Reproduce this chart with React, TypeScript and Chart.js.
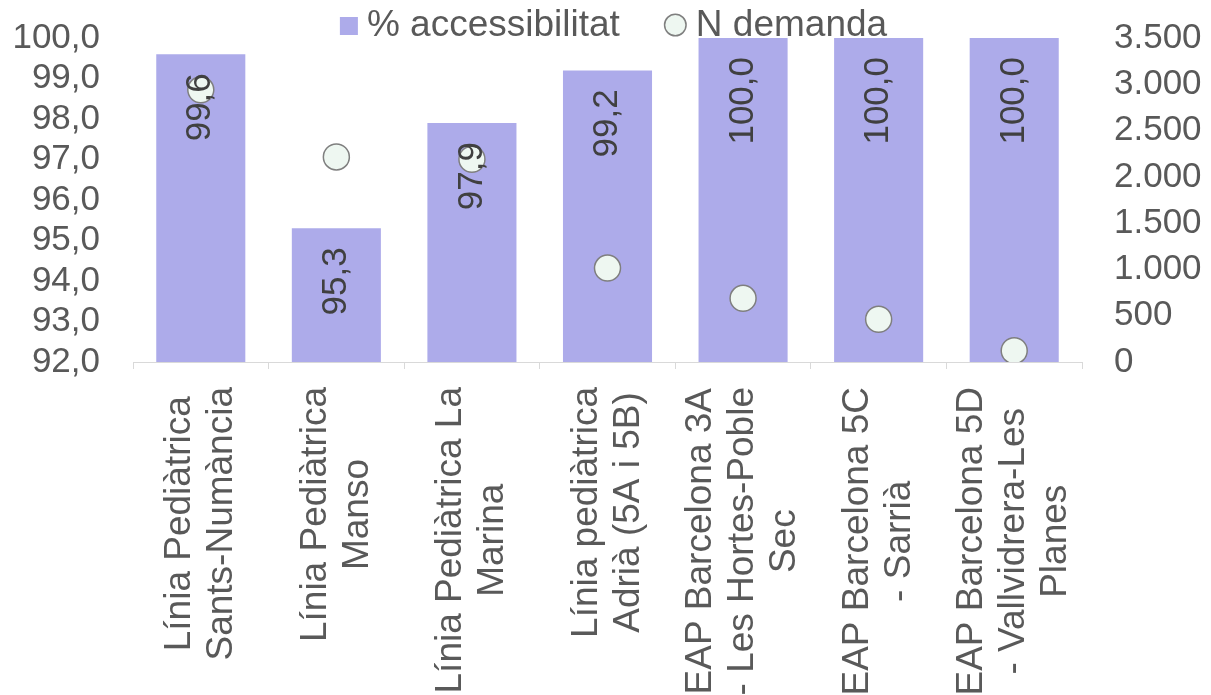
import React, { useEffect, useRef } from "react";
import { Chart, registerables } from "chart.js";

Chart.register(...registerables);

const categories: string[][] = [
  ["Línia Pediàtrica", "Sants-Numància"],
  ["Línia Pediàtrica", "Manso"],
  ["Línia Pediàtrica La", "Marina"],
  ["Línia pediàtrica", "Adrià (5A i 5B)"],
  ["EAP Barcelona 3A", "- Les Hortes-Poble", "Sec"],
  ["EAP Barcelona 5C", "- Sarrià"],
  ["EAP Barcelona 5D", "- Vallvidrera-Les", "Planes"],
];
const accessibilitat: number[] = [99.6, 95.3, 97.9, 99.2, 100.0, 100.0, 100.0];
const demanda: number[] = [2940, 2215, 2190, 1015, 688, 462, 122];
const seriesNames: string[] = ["% accessibilitat", "N demanda"];

const FONT = '"Liberation Sans", Arial, sans-serif';
const BAR_COLOR = "#ADABEA";
const POINT_FILL = "#EEF7F1";
const POINT_BORDER = "#7F7F7F";
const TEXT = "#595959";

const fmtPct = (v: number) => v.toFixed(1).replace(".", ",");
const fmtThousands = (v: number) =>
  String(Math.round(v)).replace(/\B(?=(\d{3})+(?!\d))/g, ".");

const labelAdjust = {
  id: "labelAdjust",
  beforeDraw(chart: any) {
    const ctx = chart.ctx;
    const xs = chart.scales.x;
    const items = xs.getLabelItems();
    if (items && !(items as any).__adj) {
      (items as any).__adj = true;
      items.forEach((it: any) => {
        const lines: string[] = Array.isArray(it.label) ? it.label : [it.label];
        const lh = it.font.lineHeight;
        ctx.save();
        ctx.font = it.font.string;
        let maxW = 0;
        lines.forEach((l) => (maxW = Math.max(maxW, ctx.measureText(l).width)));
        ctx.restore();
        it.options.translation = [
          it.options.translation[0] - ((lines.length - 1) / 2) * lh,
          it.options.translation[1] + maxW / 2,
        ];
        it.options.textAlign = "center";
      });
    }
  },
};

const dataLabels = {
  id: "dataLabels",
  afterDatasetsDraw(chart: any) {
    const ctx = chart.ctx;
    const meta = chart.getDatasetMeta(1);
    ctx.save();
    ctx.font = `35px ${FONT}`;
    ctx.fillStyle = "#404040";
    ctx.textAlign = "right";
    ctx.textBaseline = "middle";
    meta.data.forEach((el: any, i: number) => {
      ctx.save();
      ctx.translate(el.x, el.y + 19);
      ctx.rotate(-Math.PI / 2);
      ctx.fillText(fmtPct(accessibilitat[i]), 0, 0);
      ctx.restore();
    });
    ctx.restore();
  },
};

const customLegend = {
  id: "customLegend",
  afterDraw(chart: any) {
    const ctx = chart.ctx;
    ctx.save();
    ctx.font = `37px ${FONT}`;
    const w1 = ctx.measureText(seriesNames[0]).width;
    const w2 = ctx.measureText(seriesNames[1]).width;
    const sq = 18;
    const circ = 23;
    const gapText = 9;
    const gapItems = 44;
    const total = sq + gapText + w1 + gapItems + circ + gapText + w2;
    let x = (chart.width - total) / 2 + 8;
    const cy = 26;
    ctx.fillStyle = BAR_COLOR;
    ctx.fillRect(x, cy - sq / 2, sq, sq);
    x += sq + gapText;
    ctx.fillStyle = TEXT;
    ctx.textAlign = "left";
    ctx.textBaseline = "middle";
    ctx.fillText(seriesNames[0], x, cy);
    x += w1 + gapItems;
    ctx.beginPath();
    ctx.arc(x + circ / 2, cy - 1, circ / 2 - 0.75, 0, Math.PI * 2);
    ctx.fillStyle = POINT_FILL;
    ctx.fill();
    ctx.lineWidth = 1.5;
    ctx.strokeStyle = POINT_BORDER;
    ctx.stroke();
    x += circ + gapText;
    ctx.fillStyle = TEXT;
    ctx.fillText(seriesNames[1], x, cy);
    ctx.restore();
  },
};

export default function App() {
  const ref = useRef<HTMLCanvasElement | null>(null);
  useEffect(() => {
    if (!ref.current) return;
    const chart = new Chart(ref.current, {
      type: "bar",
      data: {
        labels: categories,
        datasets: [
          {
            type: "line",
            label: seriesNames[1],
            data: demanda,
            yAxisID: "y1",
            showLine: false,
            pointRadius: 13,
            pointHoverRadius: 13,
            pointBackgroundColor: POINT_FILL,
            pointBorderColor: POINT_BORDER,
            pointBorderWidth: 1.5,
            backgroundColor: POINT_FILL,
            borderColor: POINT_BORDER,
            order: 0,
          } as any,
          {
            type: "bar",
            label: seriesNames[0],
            data: accessibilitat,
            yAxisID: "y",
            backgroundColor: BAR_COLOR,
            borderWidth: 0,
            categoryPercentage: 1,
            barPercentage: 0.657,
            base: 92,
            order: 1,
          } as any,
        ],
      },
      options: {
        animation: false,
        responsive: true,
        maintainAspectRatio: false,
        layout: { padding: { top: 38, left: 0, right: 0, bottom: 0 } },
        plugins: {
          legend: { display: false },
          tooltip: { enabled: false },
        },
        scales: {
          x: {
            offset: true,
            grid: {
              offset: true,
              drawOnChartArea: false,
              drawTicks: true,
              tickLength: 7,
              color: "#D9D9D9",
              lineWidth: 1,
            },
            border: { display: true, color: "#D9D9D9", width: 1 },
            ticks: {
              autoSkip: false,
              minRotation: 90,
              maxRotation: 90,
              padding: 18,
              color: TEXT,
              font: { family: FONT, size: 37, lineHeight: 1.135 },
            },
            afterFit: (s: any) => {
              s.height = 333;
              s.paddingLeft = 0;
              s.paddingRight = 0;
            },
          },
          y: {
            position: "left",
            min: 92,
            max: 100,
            grid: { display: false, drawTicks: false },
            border: { display: false },
            ticks: {
              stepSize: 1,
              autoSkip: false,
              padding: 33,
              color: TEXT,
              font: { family: FONT, size: 35 },
              callback: (v: any) => fmtPct(Number(v)),
            },
            afterFit: (s: any) => {
              s.width = 133;
              s.paddingTop = 0;
              s.paddingBottom = 0;
            },
          },
          y1: {
            position: "right",
            min: 0,
            max: 3500,
            grid: { display: false, drawTicks: false },
            border: { display: false },
            ticks: {
              stepSize: 500,
              autoSkip: false,
              padding: 32,
              color: TEXT,
              font: { family: FONT, size: 35 },
              callback: (v: any) => fmtThousands(Number(v)),
            },
            afterFit: (s: any) => {
              s.width = 129;
              s.paddingTop = 0;
              s.paddingBottom = 0;
            },
          },
        },
      } as any,
      plugins: [labelAdjust, dataLabels, customLegend],
    });
    return () => chart.destroy();
  }, []);
  return (
    <div
      style={{
        position: "fixed",
        left: 0,
        top: 0,
        width: "1211px",
        height: "695px",
        background: "#ffffff",
      }}
    >
      <canvas ref={ref} />
    </div>
  );
}
